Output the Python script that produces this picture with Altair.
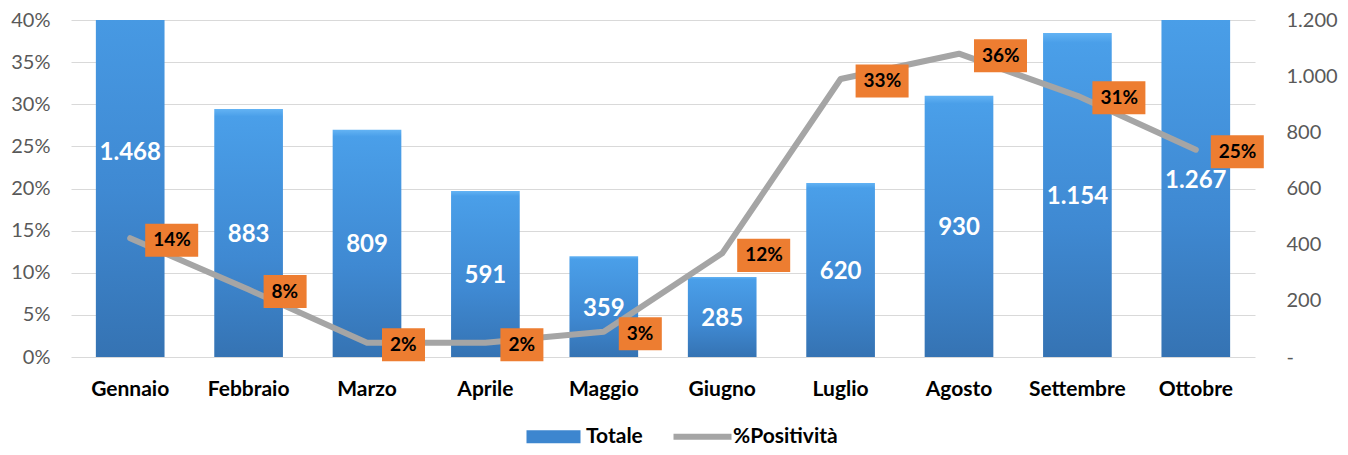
import altair as alt
import pandas as pd

MONTHS = ["Gennaio", "Febbraio", "Marzo", "Aprile", "Maggio", "Giugno",
          "Luglio", "Agosto", "Settembre", "Ottobre"]
TOTALE = [1468, 883, 809, 591, 359, 285, 620, 930, 1154, 1267]
POSITIVITA = [0.141, 0.080, 0.017, 0.017, 0.030, 0.123, 0.330, 0.360, 0.310, 0.246]
LEFT_TICKS = [0.0, 0.05, 0.10, 0.15, 0.20, 0.25, 0.30, 0.35, 0.40]
RIGHT_TICKS = [0, 200, 400, 600, 800, 1000, 1200]
SERIES = ["Totale", "%Positività"]

BLUE = "#3D86CF"
GRAY = "#A5A5A5"
ORANGE = "#ED7D31"
FONT = "Lato"

df = pd.DataFrame({"mese": MONTHS, "totale": TOTALE, "pos": POSITIVITA})
base = alt.Chart(df)

x = alt.X(
    "mese:N", sort=MONTHS,
    scale=alt.Scale(paddingInner=0.42, paddingOuter=0.21),
    axis=alt.Axis(title=None, labelAngle=0, labelFont=FONT, labelFontSize=21,
                  labelFontWeight="bold", labelColor="#000000", labelPadding=21,
                  ticks=False, domain=False, grid=False),
)

right_scale = alt.Scale(domain=[0, 1200])
left_scale = alt.Scale(domain=[0, 0.4])

grad = alt.Gradient(
    gradient="linear",
    stops=[alt.GradientStop(color="#63B3F4", offset=0),
           alt.GradientStop(color="#4A9FE9", offset=0.03),
           alt.GradientStop(color="#3F89D2", offset=0.6),
           alt.GradientStop(color="#3573B3", offset=1)],
    x1=0, x2=0, y1=0, y2=1,
)

bars = base.mark_bar(clip=True, fill=grad).encode(
    x=x,
    y=alt.Y("totale:Q", scale=right_scale,
            axis=alt.Axis(orient="right", values=RIGHT_TICKS, title=None, grid=False,
                          ticks=False, domain=False, labelPadding=31,
                          labelFont=FONT, labelFontSize=20, labelColor="#595959",
                          labelExpr="datum.value == 0 ? '-' : replace(format(datum.value, ',d'), ',', '.')")),
)

bar_text = base.transform_calculate(
    half="datum.totale / 2",
    lbl="replace(format(datum.totale, ',d'), ',', '.')",
).mark_text(font=FONT, fontSize=24, fontWeight="bold", color="white", baseline="middle", dy=2).encode(
    x=x,
    y=alt.Y("half:Q", scale=right_scale, axis=None),
    text="lbl:N",
)

line = base.mark_line(color=GRAY, strokeWidth=6, strokeCap="round", strokeJoin="round").encode(
    x=x,
    y=alt.Y("pos:Q", scale=left_scale,
            axis=alt.Axis(orient="left", values=LEFT_TICKS, format=".0%", title=None,
                          grid=True, gridColor="#D9D9D9", gridWidth=1.2,
                          ticks=False, domain=False, labelPadding=21,
                          labelFont=FONT, labelFontSize=20, labelColor="#595959")),
)

P3 = "M0.566,-0.623H2.566V0.623H0.566Z"
P2 = "M0.566,-0.623H2.189V0.623H0.566Z"

lab_base = base.transform_calculate(lbl="format(datum.pos, '.0%')", nch="length(format(datum.pos, '.0%'))")
ypos = alt.Y("pos:Q", scale=left_scale, axis=None)

box3 = lab_base.transform_filter("datum.nch >= 3").mark_point(
    shape=P3, filled=True, size=2809, color=ORANGE, opacity=1, strokeWidth=0, yOffset=2
).encode(x=x, y=ypos)
box2 = lab_base.transform_filter("datum.nch < 3").mark_point(
    shape=P2, filled=True, size=2809, color=ORANGE, opacity=1, strokeWidth=0, yOffset=2
).encode(x=x, y=ypos)
box_text = lab_base.mark_text(
    font=FONT, fontSize=19, fontWeight="bold", color="#000000", align="left",
    baseline="middle", dx=23, dy=2
).encode(x=x, y=ypos, text="lbl:N")

LEG_RECT = "M-1,-0.65H4.4V0.65H-1Z"
LEG_LINE = "M-1,-0.3H4.8V0.3H-1Z"
leg_props = dict(orient="none", legendX=455, legendY=406, direction="horizontal", title=None,
                 labelFont=FONT, labelFontSize=21, labelFontWeight="bold", labelColor="#000000",
                 symbolSize=400, columnPadding=30, labelOffset=39, symbolStrokeWidth=0,
                 symbolOpacity=1)
legend_layer = alt.Chart(pd.DataFrame({"serie": SERIES})).mark_point(
    filled=True, opacity=0, size=400
).encode(
    color=alt.Color("serie:N", scale=alt.Scale(domain=SERIES, range=[BLUE, GRAY]),
                    legend=alt.Legend(**leg_props)),
    shape=alt.Shape("serie:N", scale=alt.Scale(domain=SERIES, range=[LEG_RECT, LEG_LINE]),
                    legend=alt.Legend(**leg_props)),
)

chart = alt.layer(bars, bar_text, line, box3, box2, box_text, legend_layer).resolve_scale(
    y="independent"
).properties(
    width=1184, height=337,
    autosize=alt.AutoSizeParams(type="none"),
    padding={"left": 63, "top": 12, "right": 85, "bottom": 90},
).configure(background="white").configure_view(stroke=None)

chart.save("out.html", embed_options={"renderer": "svg", "actions": False})
